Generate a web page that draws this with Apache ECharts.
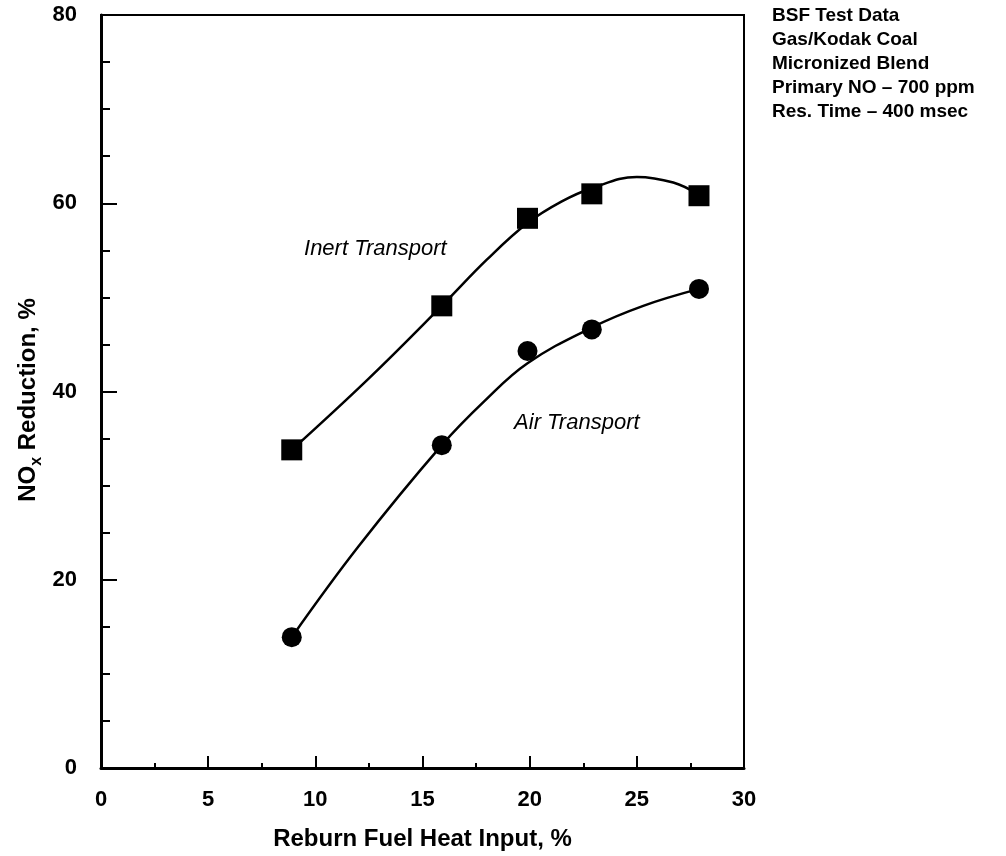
<!DOCTYPE html>
<html>
<head>
<meta charset="utf-8">
<script src="https://cdn.jsdelivr.net/npm/echarts@6/dist/echarts.min.js"></script>
<style>
html,body{margin:0;padding:0;background:#fff;}
#chart{width:1006px;height:856px;}
</style>
</head>
<body>
<div id="chart"></div>
<script>
// Measured data points
const inertX = [8.9, 15.9, 19.9, 22.9, 27.9];
const inertY = [33.8, 49.1, 58.4, 61.0, 60.8];
const airX = [8.9, 15.9, 19.9, 22.9, 27.9];
const airY = [13.9, 34.3, 44.3, 46.6, 50.9];
// Hand-drawn fitted curves
const inertCurveX = [8.9, 12.5, 15.9, 18.0, 19.9, 21.5, 22.9, 25.0, 26.7, 27.9];
const inertCurveY = [33.8, 41.4, 49.1, 54.0, 57.9, 60.2, 61.6, 62.8, 62.2, 60.9];
const airCurveX = [8.9, 12.0, 15.9, 17.9, 19.9, 22.9, 25.3, 27.9];
const airCurveY = [13.9, 23.5, 34.3, 39.0, 43.0, 46.8, 49.1, 50.9];
// Axis ticks
const xTicks = [0, 5, 10, 15, 20, 25, 30];
const yTicks = [0, 20, 40, 60, 80];
// Texts
const xName = 'Reburn Fuel Heat Input, %';
const noteLines = ['BSF Test Data', 'Gas/Kodak Coal', 'Micronized Blend', 'Primary NO \u2013 700 ppm', 'Res. Time \u2013 400 msec'];
const annotations = [
  {text: 'Inert Transport', x: 12.8, y: 55.2},
  {text: 'Air Transport', x: 22.2, y: 36.7}
];

const zip = (a, b) => a.map((v, i) => [v, b[i]]);
const FONT = '"Liberation Sans", Arial, Helvetica, sans-serif';

const chart = echarts.init(document.getElementById('chart'));
const option = {
  backgroundColor: '#fff',
  animation: false,
  grid: {left: 101, top: 15, right: 262, bottom: 88, show: true, borderColor: '#000', borderWidth: 2, backgroundColor: 'transparent'},
  xAxis: {
    type: 'value', min: xTicks[0], max: xTicks[xTicks.length - 1], interval: 5,
    axisLine: {show: true, lineStyle: {color: '#000', width: 3}},
    axisTick: {show: true, inside: true, length: 12, lineStyle: {color: '#000', width: 2}},
    minorTick: {show: true, splitNumber: 2, length: 5, lineStyle: {color: '#000', width: 2}},
    axisLabel: {color: '#000', fontFamily: FONT, fontWeight: 'bold', fontSize: 22, margin: 21},
    splitLine: {show: false},
    name: xName, nameLocation: 'middle', nameGap: 59,
    nameTextStyle: {color: '#000', fontFamily: FONT, fontWeight: 'bold', fontSize: 24}
  },
  yAxis: {
    type: 'value', min: yTicks[0], max: yTicks[yTicks.length - 1], interval: 20,
    axisLine: {show: true, lineStyle: {color: '#000', width: 3}},
    axisTick: {show: true, inside: true, length: 16, lineStyle: {color: '#000', width: 2}},
    minorTick: {show: true, splitNumber: 4, length: 9, lineStyle: {color: '#000', width: 2}},
    axisLabel: {color: '#000', fontFamily: FONT, fontWeight: 'bold', fontSize: 22, margin: 24},
    splitLine: {show: false}
  },
  series: [
    {type: 'line', data: zip(inertCurveX, inertCurveY), smooth: 0.4, showSymbol: false, symbol: 'none',
     lineStyle: {color: '#000', width: 2.5, opacity: 1}, z: 2, silent: true},
    {type: 'line', data: zip(airCurveX, airCurveY), smooth: 0.4, showSymbol: false, symbol: 'none',
     lineStyle: {color: '#000', width: 2.5, opacity: 1}, z: 2, silent: true},
    {type: 'scatter', data: zip(inertX, inertY), symbol: 'rect', symbolSize: 21,
     itemStyle: {color: '#000', opacity: 1}, z: 3},
    {type: 'scatter', data: zip(airX, airY), symbol: 'circle', symbolSize: 20,
     itemStyle: {color: '#000', opacity: 1}, z: 3},
    {type: 'scatter', data: annotations.map(a => ({value: [a.x, a.y], name: a.text})),
     symbolSize: 0, silent: true, itemStyle: {opacity: 1},
     label: {show: true, position: 'inside', formatter: p => p.name, color: '#000', opacity: 1,
             fontFamily: FONT, fontStyle: 'italic', fontSize: 22}}
  ],
  graphic: [
    {type: 'text', left: 772, top: 6, silent: true,
     style: {text: noteLines.map((t, i) => i === 0 ? '{b|' + t + '}' : '{n|' + t + '}').join('\n'),
             rich: {b: {fontFamily: FONT, fontWeight: 'bold', fontSize: 19, lineHeight: 24, fill: '#000'},
                    n: {fontFamily: FONT, fontWeight: 'bold', fontSize: 19, lineHeight: 24, fill: '#000'}}}},
    {type: 'text', x: 28, y: 400, rotation: Math.PI / 2, silent: true,
     style: {text: '{a|NO}{s|x}{a| Reduction, %}', align: 'center', verticalAlign: 'middle',
             rich: {a: {fontFamily: FONT, fontWeight: 'bold', fontSize: 24, lineHeight: 34, fill: '#000', verticalAlign: 'middle'},
                    s: {fontFamily: FONT, fontWeight: 'bold', fontSize: 16, lineHeight: 34, fill: '#000', verticalAlign: 'bottom'}}}}
  ]
};
chart.setOption(option);
</script>
</body>
</html>
